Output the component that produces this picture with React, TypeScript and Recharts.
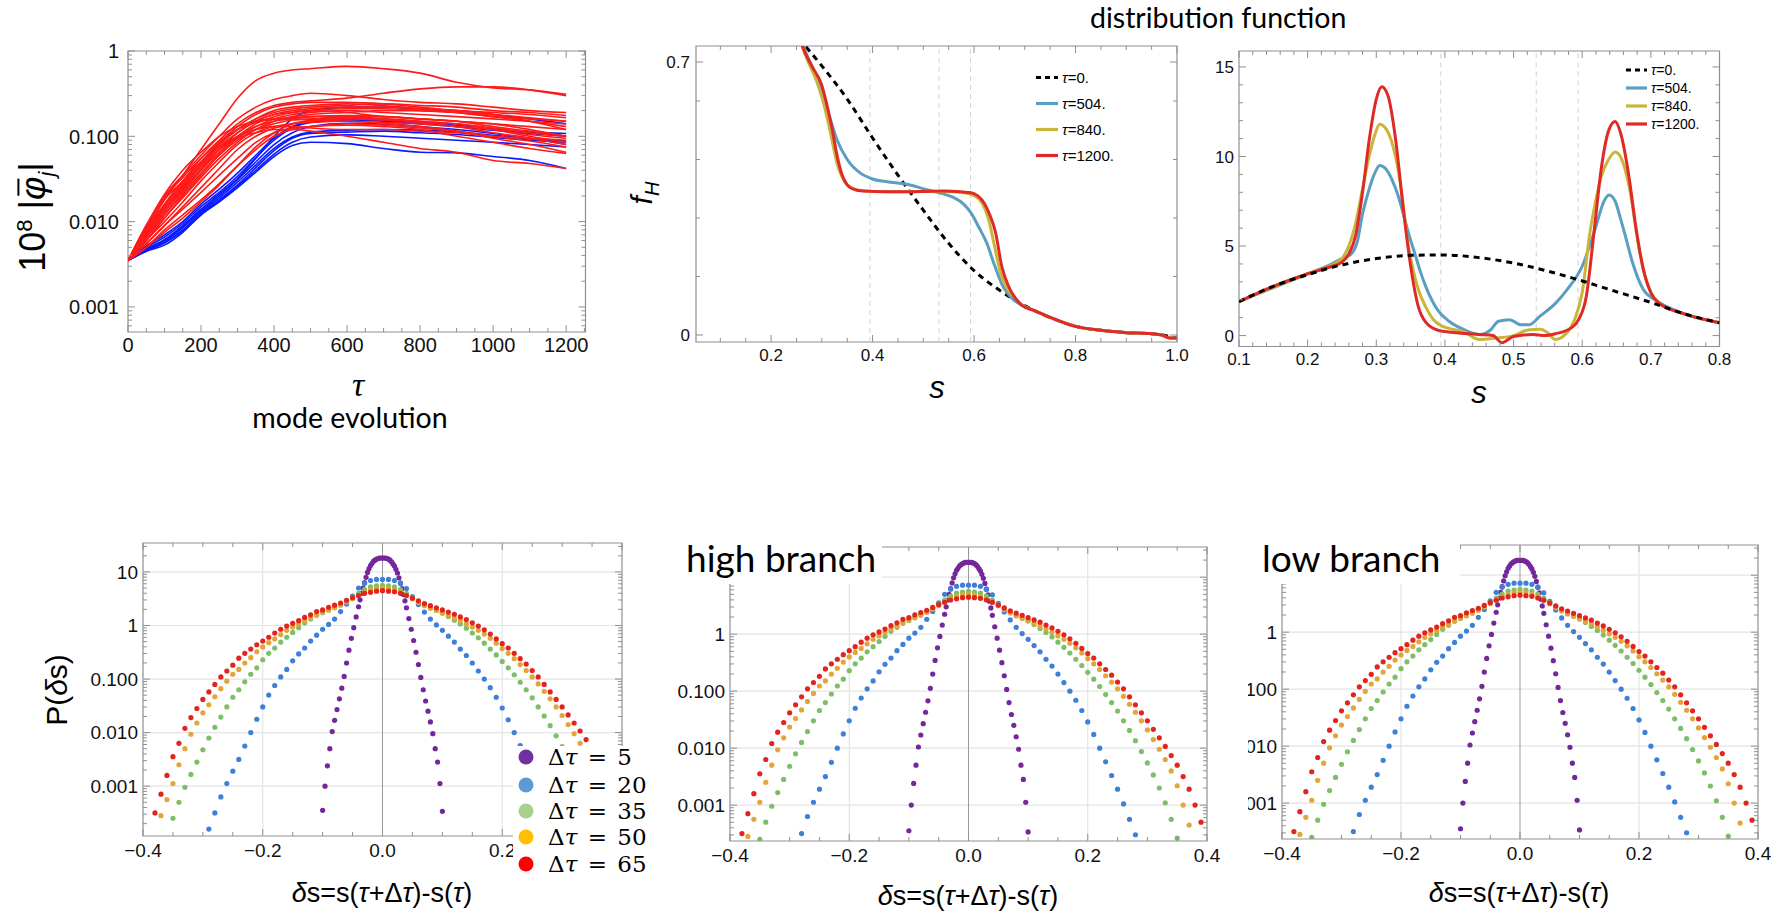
import React from "react";
import {
  LineChart,
  Line,
  XAxis,
  YAxis,
  ReferenceLine,
  ReferenceArea,
  ScatterChart,
  Scatter,
} from "recharts";

// ---------- mode evolution (top left) ----------
const tauGrid = [0, 50, 100, 150, 200, 250, 300, 350, 400, 450, 500, 600, 700, 800, 900, 1000, 1100, 1200];

const redModes: number[][] = [
  [0.0035, 0.008, 0.018, 0.035, 0.07, 0.14, 0.28, 0.45, 0.55, 0.6, 0.62, 0.66, 0.62, 0.55, 0.43, 0.37, 0.35, 0.31],
  [0.0035, 0.009, 0.02, 0.035, 0.06, 0.1, 0.16, 0.22, 0.27, 0.3, 0.32, 0.3, 0.27, 0.25, 0.24, 0.22, 0.2, 0.19],
  [0.0035, 0.008, 0.018, 0.03, 0.055, 0.09, 0.14, 0.19, 0.23, 0.25, 0.26, 0.28, 0.32, 0.36, 0.38, 0.38, 0.35, 0.3],
  [0.0035, 0.007, 0.015, 0.028, 0.05, 0.085, 0.13, 0.18, 0.22, 0.24, 0.25, 0.25, 0.24, 0.22, 0.2, 0.19, 0.18, 0.165],
  [0.0035, 0.008, 0.016, 0.03, 0.05, 0.08, 0.12, 0.16, 0.2, 0.22, 0.23, 0.24, 0.23, 0.21, 0.19, 0.17, 0.16, 0.15],
  [0.0035, 0.007, 0.014, 0.025, 0.045, 0.075, 0.11, 0.15, 0.18, 0.2, 0.21, 0.22, 0.22, 0.21, 0.2, 0.18, 0.15, 0.12],
  [0.0035, 0.0065, 0.012, 0.022, 0.04, 0.07, 0.11, 0.15, 0.18, 0.19, 0.2, 0.19, 0.17, 0.16, 0.15, 0.14, 0.12, 0.1],
  [0.0035, 0.0065, 0.013, 0.024, 0.042, 0.07, 0.1, 0.13, 0.15, 0.16, 0.17, 0.17, 0.16, 0.15, 0.14, 0.12, 0.1, 0.085],
  [0.0035, 0.006, 0.011, 0.02, 0.035, 0.06, 0.09, 0.12, 0.14, 0.155, 0.16, 0.165, 0.16, 0.15, 0.14, 0.125, 0.11, 0.1],
  [0.0035, 0.007, 0.014, 0.026, 0.045, 0.07, 0.095, 0.11, 0.12, 0.12, 0.115, 0.1, 0.085, 0.072, 0.065, 0.052, 0.048, 0.042],
  [0.0035, 0.006, 0.01, 0.017, 0.03, 0.05, 0.08, 0.11, 0.13, 0.14, 0.145, 0.15, 0.14, 0.13, 0.115, 0.095, 0.08, 0.065],
  [0.0035, 0.0055, 0.009, 0.015, 0.025, 0.042, 0.07, 0.1, 0.125, 0.14, 0.15, 0.16, 0.155, 0.145, 0.13, 0.11, 0.095, 0.08],
  [0.0035, 0.0055, 0.009, 0.014, 0.022, 0.035, 0.055, 0.085, 0.11, 0.125, 0.13, 0.14, 0.135, 0.125, 0.115, 0.1, 0.088, 0.075],
  [0.0035, 0.005, 0.008, 0.012, 0.018, 0.028, 0.045, 0.07, 0.1, 0.12, 0.13, 0.135, 0.13, 0.12, 0.1, 0.085, 0.072, 0.063],
  [0.0035, 0.006, 0.011, 0.019, 0.033, 0.055, 0.085, 0.12, 0.15, 0.17, 0.18, 0.19, 0.2, 0.2, 0.19, 0.17, 0.15, 0.13],
  [0.0035, 0.0075, 0.015, 0.027, 0.047, 0.08, 0.12, 0.16, 0.19, 0.21, 0.22, 0.23, 0.24, 0.23, 0.22, 0.2, 0.19, 0.175],
  [0.0035, 0.0085, 0.019, 0.033, 0.055, 0.085, 0.12, 0.145, 0.16, 0.165, 0.17, 0.175, 0.17, 0.16, 0.15, 0.14, 0.13, 0.12],
  [0.0035, 0.009, 0.021, 0.04, 0.065, 0.1, 0.13, 0.15, 0.16, 0.16, 0.155, 0.15, 0.145, 0.14, 0.13, 0.12, 0.105, 0.095],
  [0.0035, 0.0075, 0.016, 0.03, 0.05, 0.075, 0.1, 0.12, 0.13, 0.13, 0.125, 0.12, 0.12, 0.115, 0.11, 0.1, 0.095, 0.09],
  [0.0035, 0.006, 0.012, 0.021, 0.037, 0.062, 0.095, 0.13, 0.16, 0.18, 0.19, 0.2, 0.19, 0.18, 0.17, 0.16, 0.15, 0.14],
  [0.0035, 0.0068, 0.013, 0.023, 0.04, 0.065, 0.1, 0.14, 0.17, 0.19, 0.2, 0.21, 0.21, 0.2, 0.19, 0.18, 0.165, 0.15],
  [0.0035, 0.005, 0.0075, 0.011, 0.017, 0.027, 0.045, 0.075, 0.11, 0.14, 0.155, 0.17, 0.17, 0.16, 0.15, 0.13, 0.115, 0.1],
];

const blueModes: number[][] = [
  [0.0035, 0.0048, 0.0062, 0.009, 0.014, 0.021, 0.032, 0.055, 0.1, 0.16, 0.2, 0.22, 0.22, 0.21, 0.2, 0.18, 0.16, 0.14],
  [0.0035, 0.0045, 0.0053, 0.0075, 0.012, 0.017, 0.025, 0.038, 0.058, 0.078, 0.085, 0.082, 0.072, 0.065, 0.064, 0.058, 0.052, 0.042],
  [0.0035, 0.0046, 0.0057, 0.008, 0.0125, 0.018, 0.027, 0.043, 0.068, 0.095, 0.108, 0.112, 0.115, 0.11, 0.105, 0.097, 0.09, 0.085],
  [0.0035, 0.0048, 0.006, 0.0088, 0.0135, 0.02, 0.031, 0.05, 0.08, 0.11, 0.13, 0.142, 0.14, 0.13, 0.12, 0.108, 0.095, 0.08],
  [0.0035, 0.005, 0.0066, 0.0095, 0.015, 0.022, 0.034, 0.056, 0.09, 0.125, 0.145, 0.155, 0.15, 0.14, 0.13, 0.118, 0.108, 0.1],
  [0.0035, 0.0047, 0.0059, 0.0085, 0.013, 0.019, 0.029, 0.046, 0.072, 0.098, 0.112, 0.118, 0.12, 0.118, 0.112, 0.103, 0.094, 0.088],
  [0.0035, 0.0052, 0.007, 0.01, 0.016, 0.024, 0.037, 0.06, 0.095, 0.13, 0.15, 0.16, 0.155, 0.145, 0.135, 0.122, 0.112, 0.108],
  [0.0035, 0.0045, 0.0056, 0.0078, 0.012, 0.0175, 0.026, 0.04, 0.062, 0.085, 0.098, 0.104, 0.1, 0.095, 0.09, 0.085, 0.08, 0.075],
];

// ---------- f_H (top middle) ----------
const fh0S = [0.255, 0.3, 0.35, 0.4, 0.45, 0.5, 0.55, 0.6, 0.65, 0.69, 0.72, 0.75, 0.8, 0.85, 0.9, 0.95, 0.97, 1.0];
const fh0 = [0.76, 0.69, 0.605, 0.505, 0.41, 0.32, 0.235, 0.165, 0.115, 0.082, 0.062, 0.045, 0.022, 0.012, 0.006, 0.003, 0.0, -0.008];
const fh504S = [0.25, 0.27, 0.29, 0.3, 0.315, 0.33, 0.35, 0.376, 0.4, 0.429, 0.466, 0.503, 0.53, 0.557, 0.58, 0.594, 0.61, 0.625, 0.64, 0.655, 0.678, 0.695, 0.72, 0.75, 0.8, 0.85, 0.9, 0.95, 0.97, 0.985, 1.0];
const fh504 = [0.79, 0.72, 0.66, 0.62, 0.56, 0.5, 0.45, 0.415, 0.4, 0.393, 0.387, 0.374, 0.365, 0.354, 0.335, 0.313, 0.275, 0.236, 0.18, 0.13, 0.09, 0.076, 0.062, 0.045, 0.022, 0.012, 0.006, 0.003, 0.0, -0.008, -0.008];
const fh840S = [0.25, 0.27, 0.29, 0.3, 0.31, 0.32, 0.33, 0.34, 0.35, 0.37, 0.4, 0.45, 0.5, 0.54, 0.58, 0.6, 0.615, 0.628, 0.64, 0.652, 0.665, 0.68, 0.695, 0.72, 0.75, 0.8, 0.85, 0.9, 0.95, 0.97, 0.985, 1.0];
const fh840 = [0.78, 0.71, 0.65, 0.61, 0.56, 0.5, 0.44, 0.405, 0.385, 0.372, 0.368, 0.367, 0.368, 0.368, 0.365, 0.357, 0.34, 0.3, 0.23, 0.16, 0.12, 0.096, 0.077, 0.062, 0.045, 0.022, 0.012, 0.006, 0.003, 0.0, -0.008, -0.008];
const fh1200S = [0.25, 0.262, 0.28, 0.3, 0.31, 0.32, 0.33, 0.34, 0.35, 0.36, 0.38, 0.43, 0.5, 0.541, 0.594, 0.608, 0.62, 0.632, 0.642, 0.655, 0.668, 0.68, 0.693, 0.72, 0.75, 0.8, 0.85, 0.9, 0.95, 0.97, 0.985, 1.0];
const fh1200 = [0.8, 0.74, 0.69, 0.64, 0.59, 0.53, 0.46, 0.41, 0.385, 0.375, 0.369, 0.367, 0.368, 0.369, 0.365, 0.356, 0.338, 0.305, 0.265, 0.174, 0.125, 0.097, 0.077, 0.062, 0.045, 0.022, 0.012, 0.006, 0.003, 0.0, -0.008, -0.008];

// ---------- distribution function (top right) ----------
const df0S = [0.1, 0.15, 0.2, 0.25, 0.3, 0.35, 0.4, 0.45, 0.5, 0.55, 0.6, 0.65, 0.7, 0.75, 0.8];
const df0 = [1.9, 2.75, 3.4, 3.95, 4.3, 4.48, 4.5, 4.35, 4.05, 3.6, 3.05, 2.45, 1.85, 1.2, 0.72];
const df504S = [0.1, 0.2, 0.23, 0.25, 0.262, 0.272, 0.28, 0.289, 0.297, 0.305, 0.314, 0.323, 0.331, 0.339, 0.347, 0.356, 0.364, 0.372, 0.389, 0.406, 0.428, 0.45, 0.466, 0.478, 0.494, 0.511, 0.522, 0.539, 0.561, 0.578, 0.6, 0.617, 0.633, 0.639, 0.648, 0.656, 0.664, 0.672, 0.689, 0.706, 0.75, 0.8];
const df504 = [1.9, 3.45, 3.9, 4.3, 4.5, 5.2, 6.8, 8.1, 9.0, 9.5, 9.3, 8.7, 7.9, 6.85, 5.7, 4.6, 3.6, 2.75, 1.45, 0.8, 0.33, 0.06, 0.3, 0.8, 0.89, 0.6, 0.6, 1.1, 1.8, 2.57, 3.87, 5.73, 7.6, 7.85, 7.5, 6.5, 5.4, 4.25, 2.57, 2.0, 1.2, 0.72];
const df840S = [0.1, 0.2, 0.23, 0.25, 0.26, 0.27, 0.28, 0.289, 0.297, 0.305, 0.315, 0.328, 0.337, 0.345, 0.353, 0.361, 0.372, 0.383, 0.395, 0.406, 0.428, 0.45, 0.472, 0.5, 0.523, 0.539, 0.55, 0.561, 0.578, 0.589, 0.6, 0.611, 0.62, 0.628, 0.638, 0.648, 0.658, 0.668, 0.684, 0.7, 0.711, 0.75, 0.8];
const df840 = [1.9, 3.45, 3.85, 4.3, 5.0, 6.3, 8.2, 9.9, 11.1, 11.8, 11.5, 10.0, 8.0, 5.4, 3.8, 2.6, 1.6, 0.9, 0.55, 0.4, 0.2, -0.22, -0.15, 0.0, 0.33, 0.35, 0.15, -0.22, 0.17, 0.9, 2.4, 5.7, 7.6, 8.9, 9.8, 10.25, 9.8, 8.4, 4.6, 2.4, 1.84, 1.2, 0.72];
const df1200S = [0.1, 0.15, 0.2, 0.23, 0.25, 0.26, 0.27, 0.28, 0.29, 0.3, 0.308, 0.317, 0.328, 0.339, 0.35, 0.361, 0.372, 0.39, 0.42, 0.45, 0.47, 0.483, 0.5, 0.528, 0.545, 0.561, 0.584, 0.595, 0.606, 0.617, 0.628, 0.639, 0.648, 0.656, 0.668, 0.678, 0.689, 0.7, 0.711, 0.75, 0.8];
const df1200 = [1.9, 2.75, 3.45, 3.8, 4.1, 4.55, 5.6, 8.0, 11.0, 13.2, 13.9, 13.4, 11.0, 7.2, 3.9, 1.65, 0.75, 0.3, 0.15, 0.06, 0.0, -0.4, -0.05, 0.06, 0.0, 0.1, 0.43, 0.9, 2.2, 5.7, 9.4, 11.5, 11.95, 11.3, 8.9, 6.1, 3.7, 2.4, 1.84, 1.2, 0.72];

// ---------- P(δs): pairs of [δs, log10 P] (bottom row) ----------
const pd5: [number, number][] = [
  [-0.1, -3.45], [-0.096, -3.0], [-0.092, -2.62], [-0.088, -2.3], [-0.084, -1.98], [-0.08, -1.77], [-0.076, -1.57], [-0.072, -1.37],
  [-0.068, -1.17], [-0.064, -0.95], [-0.06, -0.7], [-0.056, -0.46], [-0.052, -0.24], [-0.048, -0.04], [-0.044, 0.16], [-0.04, 0.35],
  [-0.0375, 0.48], [-0.035, 0.6], [-0.0325, 0.7], [-0.03, 0.8], [-0.0275, 0.9], [-0.025, 0.99], [-0.0225, 1.06], [-0.02, 1.12],
  [-0.0175, 1.16], [-0.015, 1.2], [-0.0125, 1.22], [-0.01, 1.24], [-0.0075, 1.25], [-0.005, 1.26], [-0.0025, 1.26], [0, 1.26],
  [0.0025, 1.26], [0.005, 1.26], [0.0075, 1.25], [0.01, 1.24], [0.0125, 1.22], [0.015, 1.19], [0.0175, 1.15], [0.02, 1.11],
  [0.0225, 1.05], [0.025, 0.98], [0.0275, 0.89], [0.03, 0.79], [0.0325, 0.69], [0.035, 0.58], [0.0375, 0.46], [0.04, 0.33],
  [0.044, 0.13], [0.048, -0.07], [0.052, -0.28], [0.056, -0.5], [0.06, -0.73], [0.064, -0.97], [0.068, -1.2], [0.072, -1.41],
  [0.076, -1.6], [0.08, -1.8], [0.084, -2.02], [0.088, -2.3], [0.092, -2.55], [0.096, -2.95], [0.1, -3.47],
];
const pd20: [number, number][] = [
  [-0.29, -3.8], [-0.28, -3.5], [-0.27, -3.2], [-0.26, -2.95], [-0.25, -2.72], [-0.24, -2.5], [-0.23, -2.25], [-0.22, -2.0],
  [-0.21, -1.75], [-0.2, -1.52], [-0.19, -1.3], [-0.18, -1.12], [-0.17, -0.96], [-0.16, -0.82], [-0.15, -0.66], [-0.14, -0.53],
  [-0.13, -0.42], [-0.12, -0.29], [-0.11, -0.18], [-0.1, -0.07], [-0.09, 0.02], [-0.08, 0.12], [-0.07, 0.26], [-0.06, 0.4],
  [-0.05, 0.55], [-0.04, 0.7], [-0.03, 0.79], [-0.02, 0.84], [-0.01, 0.86], [0, 0.86], [0.01, 0.86], [0.02, 0.84],
  [0.03, 0.79], [0.04, 0.69], [0.05, 0.54], [0.06, 0.39], [0.07, 0.25], [0.08, 0.12], [0.09, 0.01], [0.1, -0.09],
  [0.11, -0.2], [0.12, -0.31], [0.13, -0.44], [0.14, -0.56], [0.15, -0.7], [0.16, -0.85], [0.17, -1.0], [0.18, -1.16],
  [0.19, -1.34], [0.2, -1.54], [0.21, -1.76], [0.22, -2.0], [0.23, -2.24], [0.24, -2.48], [0.25, -2.72], [0.26, -2.98],
  [0.27, -3.25], [0.28, -3.52], [0.29, -3.85],
];
const pd35: [number, number][] = [
  [-0.35, -3.6], [-0.34, -3.3], [-0.33, -3.02], [-0.32, -2.78], [-0.31, -2.55], [-0.3, -2.32], [-0.29, -2.1], [-0.28, -1.9],
  [-0.27, -1.71], [-0.26, -1.52], [-0.25, -1.34], [-0.24, -1.2], [-0.23, -1.05], [-0.22, -0.91], [-0.21, -0.79], [-0.2, -0.64],
  [-0.19, -0.52], [-0.18, -0.42], [-0.17, -0.31], [-0.16, -0.22], [-0.15, -0.13], [-0.14, -0.04], [-0.13, 0.05], [-0.12, 0.12],
  [-0.11, 0.19], [-0.1, 0.24], [-0.09, 0.29], [-0.08, 0.34], [-0.07, 0.4], [-0.06, 0.46], [-0.05, 0.53], [-0.04, 0.6],
  [-0.03, 0.67], [-0.02, 0.72], [-0.01, 0.74], [0, 0.75], [0.01, 0.74], [0.02, 0.72], [0.03, 0.67], [0.04, 0.6],
  [0.05, 0.52], [0.06, 0.45], [0.07, 0.39], [0.08, 0.33], [0.09, 0.28], [0.1, 0.23], [0.11, 0.17], [0.12, 0.1],
  [0.13, 0.03], [0.14, -0.05], [0.15, -0.14], [0.16, -0.23], [0.17, -0.33], [0.18, -0.44], [0.19, -0.55], [0.2, -0.67],
  [0.21, -0.79], [0.22, -0.92], [0.23, -1.06], [0.24, -1.2], [0.25, -1.35], [0.26, -1.52], [0.27, -1.69], [0.28, -1.87],
  [0.29, -2.06], [0.3, -2.26], [0.31, -2.47], [0.32, -2.7], [0.33, -2.96], [0.34, -3.25], [0.35, -3.58],
];
const pd50: [number, number][] = [
  [-0.37, -3.55], [-0.36, -3.25], [-0.35, -2.95], [-0.34, -2.6], [-0.33, -2.3], [-0.32, -2.03], [-0.31, -1.82], [-0.3, -1.63],
  [-0.29, -1.48], [-0.28, -1.33], [-0.27, -1.18], [-0.26, -1.04], [-0.25, -0.91], [-0.24, -0.82], [-0.23, -0.7], [-0.22, -0.6],
  [-0.21, -0.49], [-0.2, -0.4], [-0.19, -0.32], [-0.18, -0.25], [-0.17, -0.17], [-0.16, -0.09], [-0.15, -0.03], [-0.14, 0.03],
  [-0.13, 0.09], [-0.12, 0.14], [-0.11, 0.2], [-0.1, 0.25], [-0.09, 0.29], [-0.08, 0.33], [-0.07, 0.38], [-0.06, 0.44],
  [-0.05, 0.5], [-0.04, 0.56], [-0.03, 0.62], [-0.02, 0.66], [-0.01, 0.69], [0, 0.7], [0.01, 0.69], [0.02, 0.66],
  [0.03, 0.62], [0.04, 0.56], [0.05, 0.5], [0.06, 0.43], [0.07, 0.37], [0.08, 0.32], [0.09, 0.28], [0.1, 0.24],
  [0.11, 0.19], [0.12, 0.14], [0.13, 0.09], [0.14, 0.03], [0.15, -0.03], [0.16, -0.09], [0.17, -0.16], [0.18, -0.24],
  [0.19, -0.33], [0.2, -0.43], [0.21, -0.52], [0.22, -0.62], [0.23, -0.73], [0.24, -0.84], [0.25, -0.96], [0.26, -1.09],
  [0.27, -1.23], [0.28, -1.37], [0.29, -1.52], [0.3, -1.68], [0.31, -1.85], [0.32, -2.02], [0.33, -2.2], [0.34, -2.4],
  [0.35, -2.66], [0.36, -3.0], [0.37, -3.35],
];
const pd65: [number, number][] = [
  [-0.38, -3.5], [-0.37, -3.15], [-0.36, -2.8], [-0.35, -2.45], [-0.34, -2.2], [-0.33, -1.92], [-0.32, -1.72], [-0.31, -1.55],
  [-0.3, -1.38], [-0.29, -1.24], [-0.28, -1.1], [-0.27, -0.96], [-0.26, -0.85], [-0.25, -0.74], [-0.24, -0.61], [-0.23, -0.52],
  [-0.22, -0.44], [-0.21, -0.36], [-0.2, -0.29], [-0.19, -0.22], [-0.18, -0.14], [-0.17, -0.07], [-0.16, -0.01], [-0.15, 0.04],
  [-0.14, 0.09], [-0.13, 0.15], [-0.12, 0.2], [-0.11, 0.26], [-0.1, 0.29], [-0.09, 0.34], [-0.08, 0.38], [-0.07, 0.42],
  [-0.06, 0.47], [-0.05, 0.52], [-0.04, 0.56], [-0.03, 0.6], [-0.02, 0.62], [-0.01, 0.64], [0, 0.65], [0.01, 0.64],
  [0.02, 0.63], [0.03, 0.6], [0.04, 0.56], [0.05, 0.51], [0.06, 0.46], [0.07, 0.41], [0.08, 0.37], [0.09, 0.33],
  [0.1, 0.29], [0.11, 0.25], [0.12, 0.21], [0.13, 0.16], [0.14, 0.11], [0.15, 0.05], [0.16, -0.01], [0.17, -0.08],
  [0.18, -0.16], [0.19, -0.25], [0.2, -0.34], [0.21, -0.42], [0.22, -0.52], [0.23, -0.62], [0.24, -0.72], [0.25, -0.84],
  [0.26, -0.96], [0.27, -1.1], [0.28, -1.24], [0.29, -1.38], [0.3, -1.52], [0.31, -1.67], [0.32, -1.82], [0.33, -1.97],
  [0.34, -2.13], [0.35, -2.3], [0.36, -2.5], [0.37, -2.72], [0.38, -3.0], [0.39, -3.3],
];

const dtLabels = ["5", "20", "35", "50", "65"];
const dotColors = ["#74279a", "#3d7fd9", "#7dbf68", "#e3a43a", "#e2231e"];
const legendDotColors = ["#7030a0", "#5b9bd5", "#a9d18e", "#ffc000", "#ff0000"];
const tauLabels = ["0.", "504.", "840.", "1200."];
const tauColors = ["#000000", "#5a9fc2", "#c9b53b", "#e02a26"];

const FRAME = "#8f8f8f";
const SANS = "'Liberation Sans', Arial, sans-serif";
const CAL = "Lato, 'Open Sans', sans-serif";

const pts = (xs: number[], ys: number[]) => xs.map((x, i) => ({ x, y: ys[i] }));
const near = (a: number, b: number) => Math.abs(a - b) < 1e-7;

type Rect = { x: number; y: number; w: number; h: number };
const YW = 80;
const XH = 40;
const RM = 30;
const place = (r: Rect) => ({
  style: { position: "absolute" as const, left: r.x - YW, top: r.y - 10 },
  width: YW + r.w + RM,
  height: r.h + 10 + XH,
  margin: { top: 10, right: RM, bottom: 0, left: 0 },
});

type TickSpec = { axis: "x" | "y"; labels: [number, string][]; gap: number; span: number; fs: number };
const frameTick = (s: TickSpec) => (p: any) => {
  const v: number = p.payload.value;
  const hit = s.labels.find(([k]) => near(k, v));
  const len = hit ? 7 : 4;
  if (s.axis === "x") {
    const ay = p.y - s.gap;
    return (
      <g>
        <line x1={p.x} x2={p.x} y1={ay} y2={ay - len} stroke={FRAME} />
        <line x1={p.x} x2={p.x} y1={ay - s.span} y2={ay - s.span + len} stroke={FRAME} />
        {hit && hit[1] !== "" && (
          <text x={p.x} y={p.y} dy="0.74em" textAnchor="middle" fontSize={s.fs} fontFamily={SANS} fill="#111">
            {hit[1]}
          </text>
        )}
      </g>
    );
  }
  const ax = p.x + s.gap;
  return (
    <g>
      <line x1={ax} x2={ax + len} y1={p.y} y2={p.y} stroke={FRAME} />
      <line x1={ax + s.span} x2={ax + s.span - len} y1={p.y} y2={p.y} stroke={FRAME} />
      {hit && hit[1] !== "" && (
        <text x={p.x} y={p.y} dy="0.36em" textAnchor="end" fontSize={s.fs} fontFamily={SANS} fill="#111">
          {hit[1]}
        </text>
      )}
    </g>
  );
};

// panel rectangles (plot areas)
const R1: Rect = { x: 128, y: 51, w: 457.5, h: 281 };
const R2: Rect = { x: 696, y: 46, w: 481, h: 296 };
const R3: Rect = { x: 1239, y: 51, w: 480.5, h: 295.5 };
const R4: Rect = { x: 143, y: 543, w: 479, h: 293 };
const R5: Rect = { x: 730, y: 547, w: 477, h: 294 };
const R6: Rect = { x: 1282, y: 545, w: 476, h: 294 };

// tick positions
const p1X = Array.from({ length: 26 }, (_, i) => i * 50);
const p1Y: number[] = [];
[-4, -3, -2, -1, 0].forEach((d) => {
  for (let k = 1; k <= 9; k++) {
    const v = k * Math.pow(10, d);
    if (v >= 0.000508 && v <= 1.0000001) p1Y.push(v);
  }
});
const p2X = Array.from({ length: 19 }, (_, i) => 0.1 + i * 0.05);
const p2Y = [0, 0.15, 0.3, 0.45, 0.6, 0.7];
const p3X = Array.from({ length: 36 }, (_, i) => 0.1 + i * 0.02);
const p3Y = Array.from({ length: 16 }, (_, i) => i);
const bX = Array.from({ length: 17 }, (_, i) => -0.4 + i * 0.05);
const logTicks = (lo: number, hi: number) => {
  const out: number[] = [];
  for (let d = -4; d <= 1; d++) {
    for (let k = 1; k <= 9; k++) {
      const v = d + Math.log10(k);
      if (v >= lo && v <= hi) out.push(v);
    }
  }
  return out;
};

const Txt = ({ x, y, fs, family = SANS, italic = false, children, anchor = "left", rotate = false }: any) => {
  const style: React.CSSProperties = {
    position: "absolute",
    left: x,
    top: y,
    fontSize: fs,
    fontFamily: family,
    fontStyle: italic ? "italic" : "normal",
    lineHeight: 1,
    whiteSpace: "nowrap",
    color: "#000",
  };
  if (rotate) style.transform = "translate(-50%, -50%) rotate(-90deg)";
  else if (anchor === "center") style.transform = "translateX(-50%)";
  return <div style={style}>{children}</div>;
};

const ModePanel = () => {
  const pl = place(R1);
  const labs: [number, string][] = [[0.001, "0.001"], [0.01, "0.010"], [0.1, "0.100"], [1, "1"]];
  const xl: [number, string][] = [0, 200, 400, 600, 800, 1000, 1200].map((v) => [v, String(v)] as [number, string]);
  return (
    <div style={pl.style}>
      <LineChart width={pl.width} height={pl.height} margin={pl.margin}>
        <XAxis type="number" dataKey="x" domain={[0, 1253]} allowDataOverflow ticks={p1X} interval={0} height={XH}
          axisLine={false} tickSize={0} tickMargin={5} tick={frameTick({ axis: "x", labels: xl, gap: 5, span: R1.h, fs: 20 })} />
        <YAxis type="number" scale="log" domain={[0.000508, 1]} allowDataOverflow ticks={p1Y} interval={0} width={YW}
          axisLine={false} tickSize={0} tickMargin={9} tick={frameTick({ axis: "y", labels: labs, gap: 9, span: R1.w, fs: 20 })} />
        <ReferenceArea x1={0} x2={1253} y1={0.000508} y2={1} fill="none" stroke={FRAME} strokeWidth={1.2} />
        {blueModes.map((m, i) => (
          <Line key={`b${i}`} data={pts(tauGrid, m)} dataKey="y" type="monotone" stroke="#0a1aff" strokeWidth={1.6}
            dot={false} isAnimationActive={false} />
        ))}
        {redModes.map((m, i) => (
          <Line key={`r${i}`} data={pts(tauGrid, m)} dataKey="y" type="monotone" stroke="#ff1a1a" strokeWidth={1.6}
            dot={false} isAnimationActive={false} />
        ))}
      </LineChart>
    </div>
  );
};

const FhPanel = () => {
  const pl = place(R2);
  const xl: [number, string][] = [[0.2, "0.2"], [0.4, "0.4"], [0.6, "0.6"], [0.8, "0.8"], [1.0, "1.0"]];
  const yl: [number, string][] = [[0, "0"], [0.7, "0.7"]];
  const series = [
    { xs: fh0S, ys: fh0, c: tauColors[0], dash: "6 5" },
    { xs: fh504S, ys: fh504, c: tauColors[1] },
    { xs: fh840S, ys: fh840, c: tauColors[2] },
    { xs: fh1200S, ys: fh1200, c: tauColors[3] },
  ];
  return (
    <div style={pl.style}>
      <LineChart width={pl.width} height={pl.height} margin={pl.margin}>
        <XAxis type="number" dataKey="x" domain={[0.052, 1.0]} allowDataOverflow ticks={p2X} interval={0} height={XH}
          axisLine={false} tickSize={0} tickMargin={6} tick={frameTick({ axis: "x", labels: xl, gap: 6, span: R2.h, fs: 17 })} />
        <YAxis type="number" domain={[-0.018, 0.741]} allowDataOverflow ticks={p2Y} interval={0} width={YW}
          axisLine={false} tickSize={0} tickMargin={6} tick={frameTick({ axis: "y", labels: yl, gap: 6, span: R2.w, fs: 17 })} />
        {[0.395, 0.531, 0.593].map((v) => (
          <ReferenceLine key={v} x={v} stroke="#d2d2d2" strokeDasharray="5 4" />
        ))}
        <ReferenceArea x1={0.052} x2={1.0} y1={-0.018} y2={0.741} fill="none" stroke={FRAME} strokeWidth={1.2} />
        {series.map((s, i) => (
          <Line key={i} data={pts(s.xs, s.ys)} dataKey="y" type="monotone" stroke={s.c} strokeWidth={3}
            strokeDasharray={s.dash} dot={false} isAnimationActive={false} />
        ))}
      </LineChart>
    </div>
  );
};

const DistPanel = () => {
  const pl = place(R3);
  const xl: [number, string][] = [0.1, 0.2, 0.3, 0.4, 0.5, 0.6, 0.7, 0.8].map((v) => [v, v.toFixed(1)] as [number, string]);
  const yl: [number, string][] = [[0, "0"], [5, "5"], [10, "10"], [15, "15"]];
  const series = [
    { xs: df504S, ys: df504, c: tauColors[1] },
    { xs: df840S, ys: df840, c: tauColors[2] },
    { xs: df1200S, ys: df1200, c: tauColors[3] },
    { xs: df0S, ys: df0, c: tauColors[0], dash: "6 5" },
  ];
  return (
    <div style={pl.style}>
      <LineChart width={pl.width} height={pl.height} margin={pl.margin}>
        <XAxis type="number" dataKey="x" domain={[0.1, 0.8]} allowDataOverflow ticks={p3X} interval={0} height={XH}
          axisLine={false} tickSize={0} tickMargin={6} tick={frameTick({ axis: "x", labels: xl, gap: 6, span: R3.h, fs: 17 })} />
        <YAxis type="number" domain={[-0.61, 15.89]} allowDataOverflow ticks={p3Y} interval={0} width={YW}
          axisLine={false} tickSize={0} tickMargin={5} tick={frameTick({ axis: "y", labels: yl, gap: 5, span: R3.w, fs: 17 })} />
        {[0.394, 0.533, 0.594].map((v) => (
          <ReferenceLine key={v} x={v} stroke="#d2d2d2" strokeDasharray="5 4" />
        ))}
        <ReferenceArea x1={0.1} x2={0.8} y1={-0.61} y2={15.89} fill="none" stroke={FRAME} strokeWidth={1.2} />
        {series.map((s, i) => (
          <Line key={i} data={pts(s.xs, s.ys)} dataKey="y" type="monotone" stroke={s.c} strokeWidth={3}
            strokeDasharray={s.dash} dot={false} isAnimationActive={false} />
        ))}
      </LineChart>
    </div>
  );
};

// labels that sit under an overlay in the reference are left blank
const ScatterPanel = ({ r, lo, hi, hideX = [], hideY = [] }: { r: Rect; lo: number; hi: number; hideX?: number[]; hideY?: number[] }) => {
  const pl = place(r);
  const xl: [number, string][] = ([[-0.4, "\u22120.4"], [-0.2, "\u22120.2"], [0, "0.0"], [0.2, "0.2"], [0.4, "0.4"]] as [number, string][])
    .map(([v, t]) => [v, hideX.some((h) => near(h, v)) ? "" : t] as [number, string]);
  const yl: [number, string][] = ([[-3, "0.001"], [-2, "0.010"], [-1, "0.100"], [0, "1"], [1, "10"]] as [number, string][])
    .map(([v, t]) => [v, hideY.some((h) => near(h, v)) ? "" : t] as [number, string]);
  const sets = [pd5, pd20, pd35, pd50, pd65];
  return (
    <div style={pl.style}>
      <ScatterChart width={pl.width} height={pl.height} margin={pl.margin}>
        <XAxis type="number" dataKey="x" domain={[-0.4, 0.4]} allowDataOverflow ticks={bX} interval={0} height={XH}
          axisLine={false} tickSize={0} tickMargin={7} tick={frameTick({ axis: "x", labels: xl, gap: 7, span: r.h, fs: 19 })} />
        <YAxis type="number" dataKey="y" domain={[lo, hi]} allowDataOverflow ticks={logTicks(lo, hi)} interval={0} width={YW}
          axisLine={false} tickSize={0} tickMargin={5} tick={frameTick({ axis: "y", labels: yl, gap: 5, span: r.w, fs: 19 })} />
        {[-3, -2, -1, 0, 1].map((v) => (
          <ReferenceLine key={`h${v}`} y={v} stroke="#e4e4e4" strokeWidth={1.2} />
        ))}
        <ReferenceLine x={-0.2} stroke="#e4e4e4" strokeWidth={1.2} />
        <ReferenceLine x={0.2} stroke="#e4e4e4" strokeWidth={1.2} />
        <ReferenceLine x={0} stroke="#9a9a9a" strokeWidth={1} />
        <ReferenceArea x1={-0.4} x2={0.4} y1={lo} y2={hi} fill="none" stroke={FRAME} strokeWidth={1.2} />
        {sets.map((d, i) => (
          <Scatter key={i} data={d.map(([x, y]) => ({ x, y }))} isAnimationActive={false}
            shape={(p: any) => <circle cx={p.cx} cy={p.cy} r={2.6} fill={dotColors[i]} />} />
        ))}
      </ScatterChart>
    </div>
  );
};

const TauLegend = ({ x, y0, dy, fs, lw }: { x: number; y0: number; dy: number; fs: number; lw: number }) => (
  <>
    {tauLabels.map((t, i) => (
      <div key={t} style={{ position: "absolute", left: x, top: y0 + i * dy - fs / 2, height: fs, display: "flex", alignItems: "center" }}>
        <svg width={lw + 4} height={fs}>
          <line x1={0} x2={lw} y1={fs / 2} y2={fs / 2} stroke={tauColors[i]} strokeWidth={3.2}
            strokeDasharray={i === 0 ? "5 4" : undefined} />
        </svg>
        <span style={{ fontFamily: SANS, fontSize: fs, lineHeight: 1 }}>
          <i>τ</i>={t}
        </span>
      </div>
    ))}
  </>
);

const BranchTag = ({ x, w, text }: { x: number; w: number; text: string }) => (
  <div style={{ position: "absolute", left: x, top: 535, width: w, height: 49, background: "#fff" }}>
    <div style={{ position: "absolute", left: 6, top: 4, fontFamily: CAL, fontSize: 37, lineHeight: 1, whiteSpace: "nowrap" }}>{text}</div>
  </div>
);

const DeltaLabel = ({ cx, top }: { cx: number; top: number }) => (
  <Txt x={cx} y={top} fs={27} anchor="center">
    <i>δ</i>s=s(<i>τ</i>+Δ<i>τ</i>)-s(<i>τ</i>)
  </Txt>
);

export default function App() {
  return (
    <div style={{ position: "absolute", left: 0, top: 0, width: 1787, height: 913, background: "#fff", overflow: "hidden" }}>
      <ModePanel />
      <FhPanel />
      <DistPanel />
      <ScatterPanel r={R4} lo={-3.93} hi={1.54} hideX={[0.4]} />
      <ScatterPanel r={R5} lo={-3.63} hi={1.53} hideY={[1]} />
      <ScatterPanel r={R6} lo={-3.63} hi={1.53} hideY={[1]} />

      {/* top row titles */}
      <Txt x={1090} y={3} fs={28.5} family={CAL}>distribution function</Txt>
      <Txt x={350} y={403} fs={28.5} family={CAL} anchor="center">mode evolution</Txt>
      <Txt x={358} y={368} fs={34} family="'Liberation Serif', serif" italic anchor="center">τ</Txt>
      <Txt x={36} y={217} fs={36} rotate>
        10<sup style={{ fontSize: 22 }}>8</sup> |
        <span style={{ position: "relative", display: "inline-block" }}>
          <i>φ</i>
          <span style={{ position: "absolute", left: 4, right: 2, top: 2, borderTop: "2.5px solid #000" }} />
        </span>
        <sub style={{ fontSize: 22 }}><i>j</i></sub>|
      </Txt>
      <Txt x={644} y={193} fs={30} italic rotate>
        f<sub style={{ fontSize: 20 }}>H</sub>
      </Txt>
      <Txt x={937} y={372} fs={31} italic anchor="center">s</Txt>
      <Txt x={1479} y={377} fs={31} italic anchor="center">s</Txt>
      <TauLegend x={1036} y0={77} dy={26} fs={15} lw={22} />
      <TauLegend x={1626} y0={70} dy={18} fs={14} lw={21} />

      {/* bottom row */}
      <Txt x={57} y={690} fs={30} rotate>
        P(<i>δ</i>s)
      </Txt>
      <DeltaLabel cx={382} top={880} />
      <DeltaLabel cx={968} top={883} />
      <DeltaLabel cx={1519} top={880} />
      <BranchTag x={680} w={202} text="high branch" />
      <BranchTag x={1256} w={204} text="low branch" />
      <div style={{ position: "absolute", left: 1212, top: 552, width: 36, height: 292, background: "#fff" }} />

      <div style={{ position: "absolute", left: 513, top: 746, width: 150, height: 136, background: "#fff" }}>
        {dtLabels.map((d, i) => (
          <div key={d} style={{ position: "absolute", left: 0, top: [11, 39, 65, 91, 118][i] - 13, height: 26, display: "flex", alignItems: "center" }}>
            <svg width={30} height={26}>
              <circle cx={13} cy={13} r={7.5} fill={legendDotColors[i]} />
            </svg>
            <span style={{ marginLeft: 5, fontFamily: "'DejaVu Serif', serif", fontSize: 23, lineHeight: 1, wordSpacing: 3 }}>
              Δ<i>τ</i> = {d}
            </span>
          </div>
        ))}
      </div>
    </div>
  );
}
